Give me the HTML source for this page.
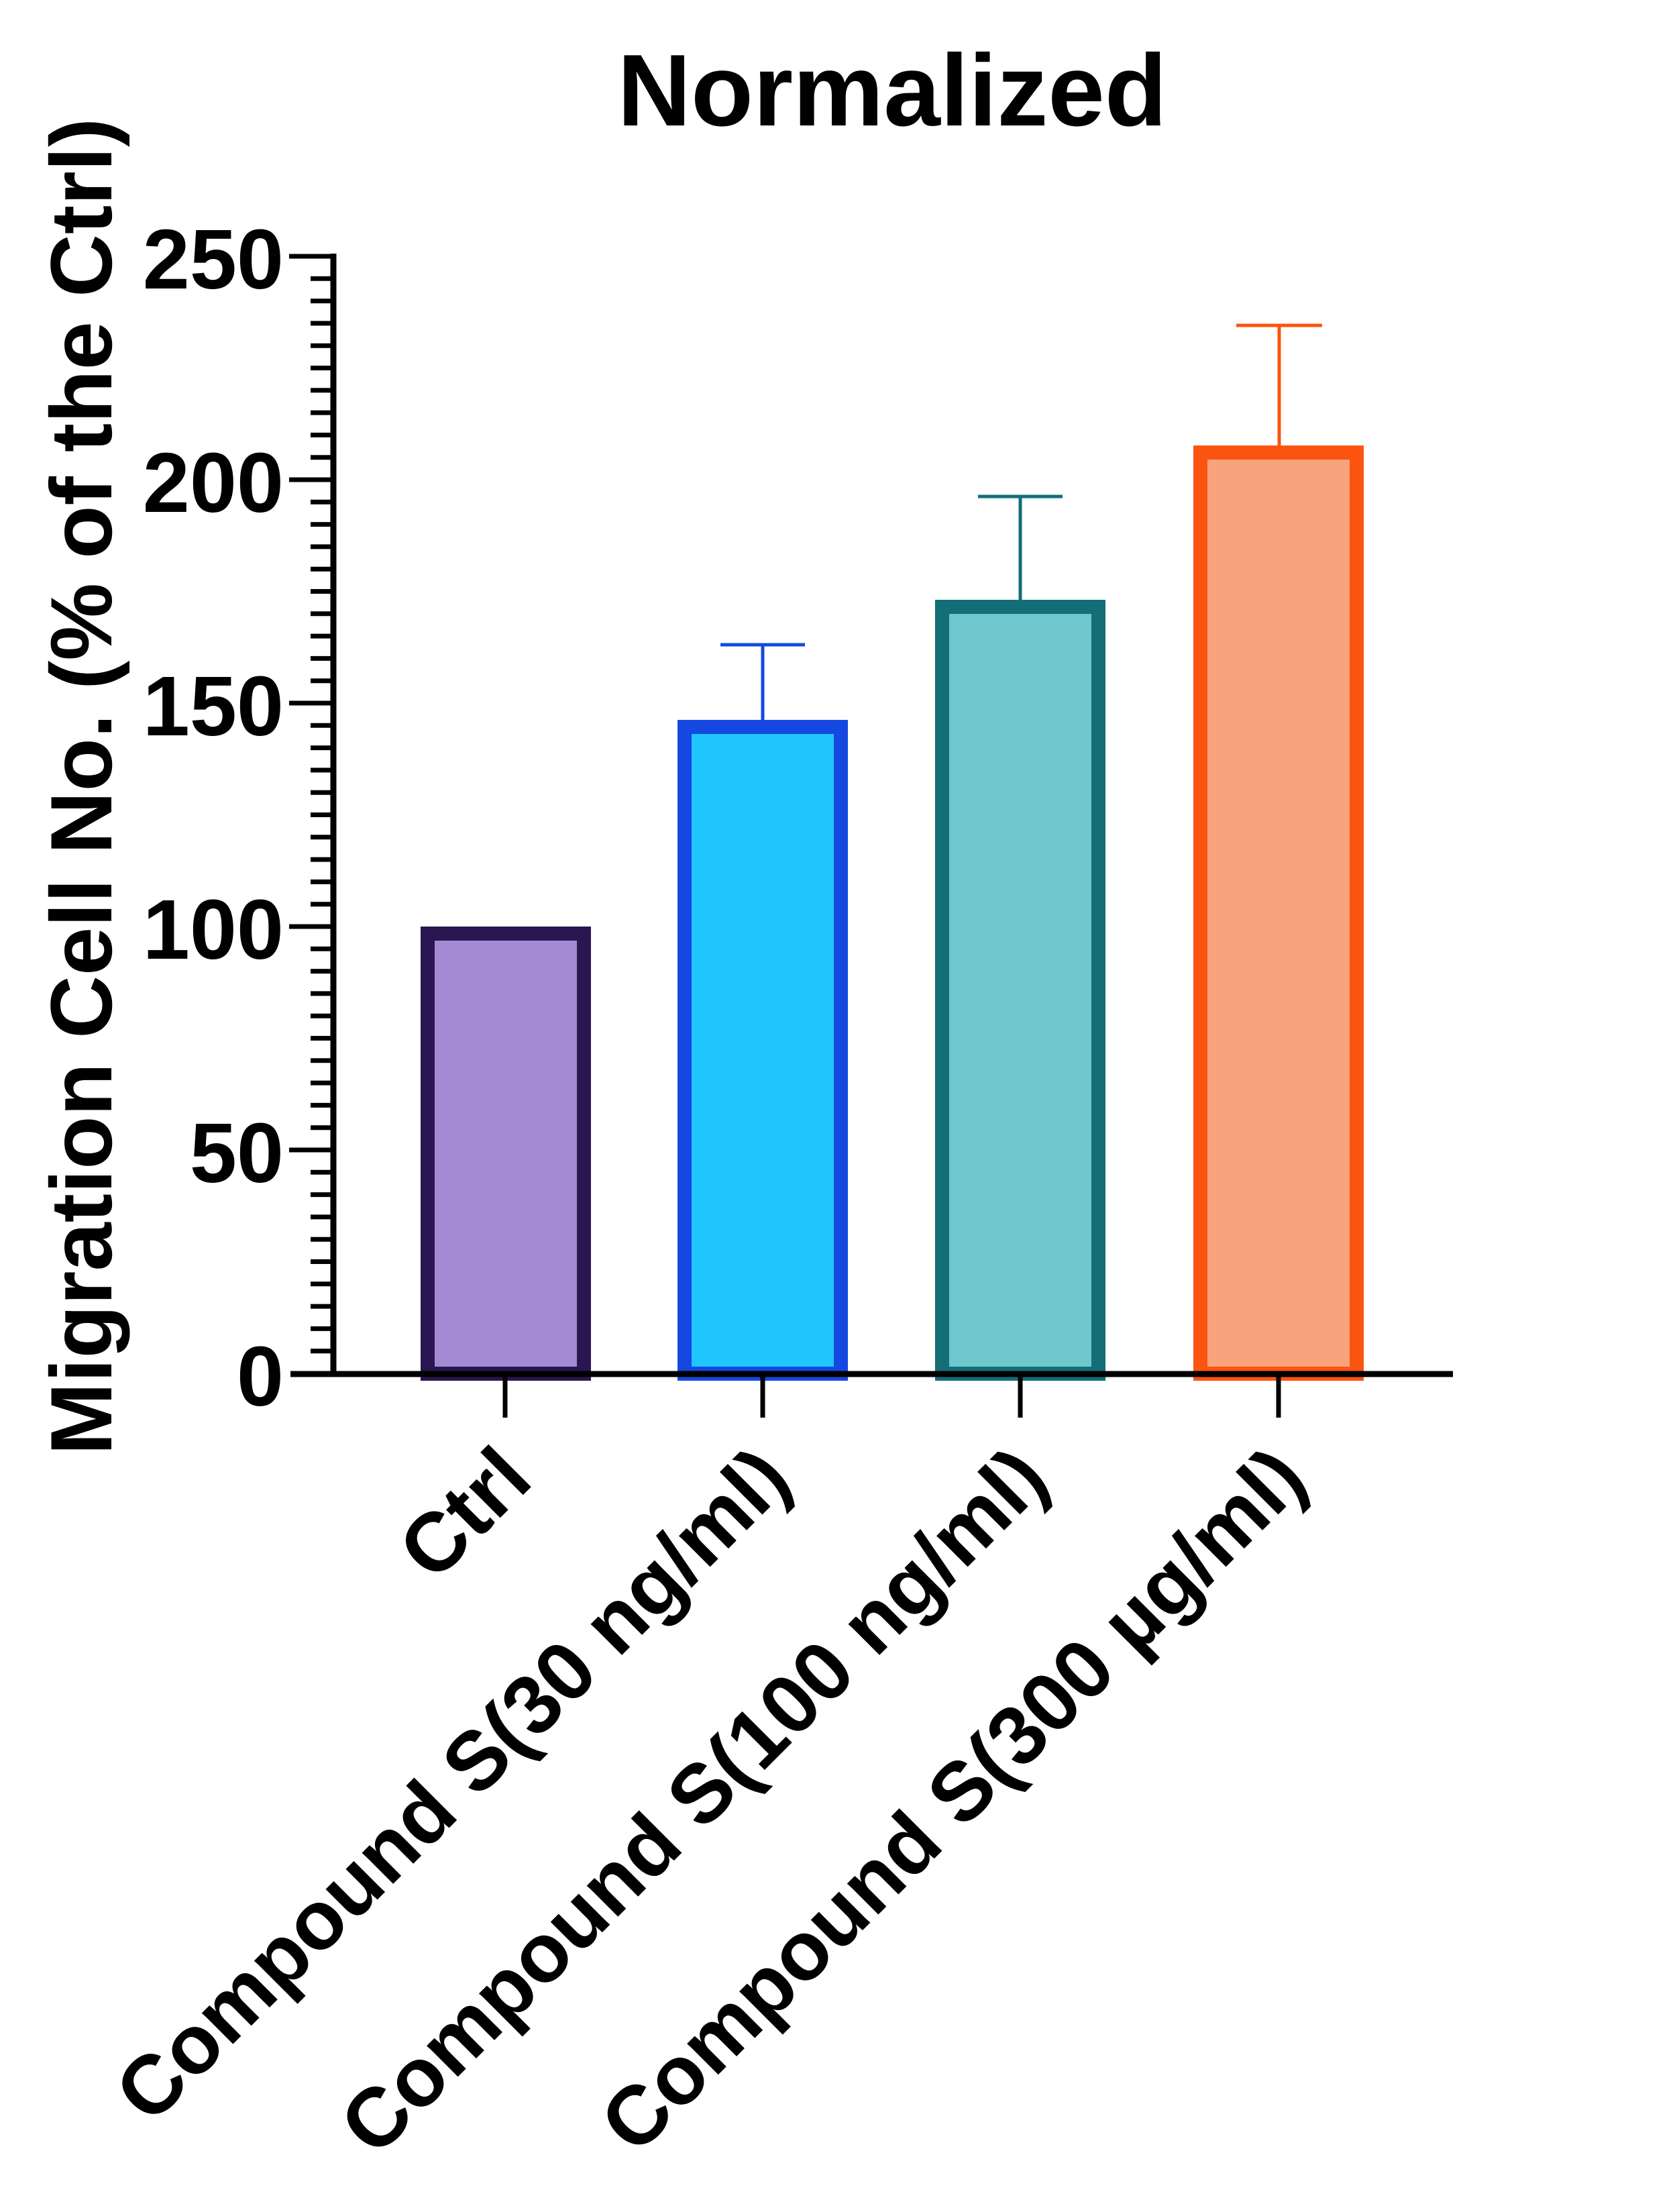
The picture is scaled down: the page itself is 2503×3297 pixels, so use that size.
<!DOCTYPE html>
<html><head><meta charset="utf-8"><style>html,body{margin:0;padding:0;background:#fff}svg{display:block}</style></head>
<body>
<svg width="2503" height="3297" viewBox="0 0 2503 3297" xmlns="http://www.w3.org/2000/svg" font-family="'Liberation Sans', Arial, sans-serif" font-weight="bold">
<rect width="2503" height="3297" fill="#fff"/>
<text x="1330" y="187" font-size="152" text-anchor="middle">Normalized</text>
<text transform="translate(166,2169) rotate(-90)" font-size="130" text-anchor="start">Migration Cell No. (% of the Ctrl)</text>
<g stroke-width="21">
<rect x="637.5" y="1391.5" width="233" height="656" fill="#a48ad3" stroke="#2a1650"/>
<rect x="1020.5" y="1083.5" width="233" height="964" fill="#1ec6fd" stroke="#1448e0"/>
<rect x="1404.5" y="904.5" width="233" height="1143" fill="#70c6cd" stroke="#136e78"/>
<rect x="1789.5" y="674.5" width="233" height="1373" fill="#f9a37d" stroke="#fb5410"/>
</g>
<g stroke-width="5">
<line x1="1137" y1="1073" x2="1137" y2="961" stroke="#1448e0"/>
<line x1="1074" y1="961" x2="1200" y2="961" stroke="#1448e0"/>
<line x1="1521" y1="894" x2="1521" y2="740" stroke="#136e78"/>
<line x1="1458" y1="740" x2="1584" y2="740" stroke="#136e78"/>
<line x1="1907" y1="664" x2="1907" y2="485" stroke="#fb5410"/>
<line x1="1843" y1="485" x2="1971" y2="485" stroke="#fb5410"/>
</g>
<g stroke="#000">
<line x1="497" y1="378" x2="497" y2="2052" stroke-width="9"/>
<line x1="433" y1="2048" x2="2166" y2="2048" stroke-width="9"/>
<g stroke-width="7">
<line x1="753" y1="2048" x2="753" y2="2113"/>
<line x1="1137" y1="2048" x2="1137" y2="2113"/>
<line x1="1521" y1="2048" x2="1521" y2="2113"/>
<line x1="1906" y1="2048" x2="1906" y2="2113"/>
<line x1="431" y1="382" x2="497" y2="382"/>
<line x1="431" y1="715" x2="497" y2="715"/>
<line x1="431" y1="1048" x2="497" y2="1048"/>
<line x1="431" y1="1381" x2="497" y2="1381"/>
<line x1="431" y1="1714" x2="497" y2="1714"/>
</g>
<g stroke-width="7">
<path d="M463 415.3H497M463 448.6H497M463 481.9H497M463 515.2H497M463 548.5H497M463 581.8H497M463 615.1H497M463 648.4H497M463 681.7H497
M463 748.3H497M463 781.6H497M463 814.9H497M463 848.2H497M463 881.5H497M463 914.8H497M463 948.1H497M463 981.4H497M463 1014.7H497
M463 1081.3H497M463 1114.6H497M463 1147.9H497M463 1181.2H497M463 1214.5H497M463 1247.8H497M463 1281.1H497M463 1314.4H497M463 1347.7H497
M463 1414.3H497M463 1447.6H497M463 1480.9H497M463 1514.2H497M463 1547.5H497M463 1580.8H497M463 1614.1H497M463 1647.4H497M463 1680.7H497
M463 1747.3H497M463 1780.6H497M463 1813.9H497M463 1847.2H497M463 1880.5H497M463 1913.8H497M463 1947.1H497M463 1980.4H497M463 2013.7H497" fill="none"/>
</g>
</g>
<g font-size="126" text-anchor="end">
<text x="423" y="430">250</text>
<text x="423" y="763">200</text>
<text x="423" y="1096">150</text>
<text x="423" y="1429">100</text>
<text x="423" y="1762">50</text>
<text x="423" y="2095">0</text>
</g>
<g font-size="124" text-anchor="end">
<text transform="translate(798,2210) rotate(-45)">Ctrl</text>
<text transform="translate(1184,2210) rotate(-45)">Compound S(30 ng/ml)</text>
<text transform="translate(1568,2210) rotate(-45)">Compound S(100 ng/ml)</text>
<text transform="translate(1953,2210) rotate(-45)">Compound S(300 µg/ml)</text>
</g>
</svg>
</body></html>
